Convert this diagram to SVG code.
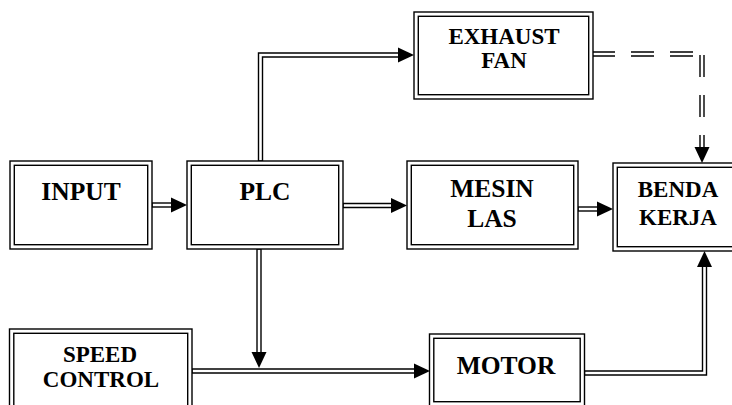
<svg xmlns="http://www.w3.org/2000/svg" width="732" height="405" viewBox="0 0 732 405">
<style>
.o,.i{fill:none;stroke:#000;stroke-width:1.4}
.o{fill:#fff}
text{font-family:"Liberation Serif","DejaVu Serif",serif;font-weight:bold;fill:#000;text-anchor:middle}
.big{font-size:25.5px}
.sm{font-size:23px}
.cb{fill:none;stroke:#000;stroke-width:5.4;stroke-linejoin:miter}
.cw{fill:none;stroke:#fff;stroke-width:2.6;stroke-linejoin:miter}
.dh{stroke-dasharray:23 16}
.dv{stroke-dasharray:22 18}
</style>
<defs>
<marker id="ah" markerUnits="userSpaceOnUse" markerWidth="17" markerHeight="16" refX="0" refY="7.5" orient="auto" overflow="visible">
<path d="M0,0 L16,7.5 L0,15 Z" fill="#000"/>
</marker>
</defs>
<rect width="732" height="405" fill="#fff"/>
<g id="connectors">
<path class="cb" d="M152,205 H171" marker-end="url(#ah)"/>
<path class="cw" d="M152.7,205 H171"/>
<path class="cb" d="M260.5,161 V55 H398" marker-end="url(#ah)"/>
<path class="cw" d="M260.5,160.3 V55 H398"/>
<path class="cb" d="M343,205.5 H391" marker-end="url(#ah)"/>
<path class="cw" d="M343.7,205.5 H391"/>
<path class="cb" d="M578,209 H597" marker-end="url(#ah)"/>
<path class="cw" d="M578.7,209 H597"/>
<path class="cb dh" d="M592,54 H694"/>
<path class="cw dh" d="M592,54 H694"/>
<path class="cb dv" d="M702,55 V147" marker-end="url(#ah)"/>
<path class="cw dv" d="M702,55 V147"/>
<path class="cb" d="M259,249 V352" marker-end="url(#ah)"/>
<path class="cw" d="M259,249.7 V352"/>
<path class="cb" d="M192,371 H414" marker-end="url(#ah)"/>
<path class="cw" d="M192.7,371 H414"/>
<path class="cb" d="M584.5,373 H704.5 V267" marker-end="url(#ah)"/>
<path class="cw" d="M585.2,373 H704.5 V267"/>
</g>
<g id="input">
<rect class="o" x="10" y="161" width="142" height="88"/>
<rect class="i" x="14.3" y="165.3" width="133.4" height="79.4"/>
<text class="big" x="81" y="200">INPUT</text>
</g>
<g id="plc">
<rect class="o" x="187" y="161" width="156" height="88"/>
<rect class="i" x="191.3" y="165.3" width="147.4" height="79.4"/>
<text class="big" x="265" y="200">PLC</text>
</g>
<g id="exhaust-fan">
<rect class="o" x="414" y="12" width="179" height="87"/>
<rect class="i" x="418.3" y="16.3" width="170.4" height="78.4"/>
<text class="sm" x="504" y="44">EXHAUST</text>
<text class="sm" x="504" y="68">FAN</text>
</g>
<g id="mesin-las">
<rect class="o" x="407" y="161" width="171" height="88"/>
<rect class="i" x="411.3" y="165.3" width="162.4" height="79.4"/>
<text class="big" x="492" y="197">MESIN</text>
<text class="big" x="492" y="227">LAS</text>
</g>
<g id="benda-kerja">
<rect class="o" x="613" y="163" width="130" height="88"/>
<rect class="i" x="617.3" y="167.3" width="121.4" height="79.4"/>
<text class="sm" x="678" y="197">BENDA</text>
<text class="sm" x="678" y="225">KERJA</text>
</g>
<g id="speed-control">
<rect class="o" x="9.5" y="329" width="182.5" height="90"/>
<rect class="i" x="13.8" y="333.3" width="173.9" height="81.4"/>
<text class="sm" x="100" y="362">SPEED</text>
<text class="sm" x="101" y="387">CONTROL</text>
</g>
<g id="motor">
<rect class="o" x="429.5" y="334" width="155" height="72"/>
<rect class="i" x="433.8" y="338.3" width="146.4" height="63.4"/>
<text class="big" x="506" y="374">MOTOR</text>
</g>
</svg>
